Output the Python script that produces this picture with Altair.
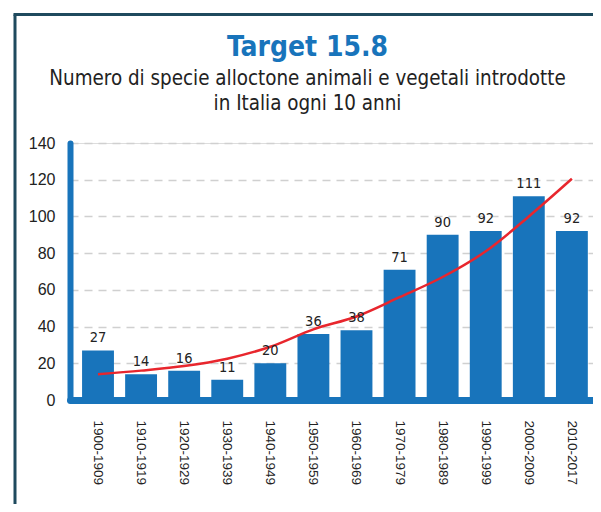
import altair as alt
import pandas as pd

periods = ["1900-1909", "1910-1919", "1920-1929", "1930-1939", "1940-1949", "1950-1959",
           "1960-1969", "1970-1979", "1980-1989", "1990-1999", "2000-2009", "2010-2017"]
values = [27, 14, 16, 11, 20, 36, 38, 71, 90, 92, 111, 92]
trend = [14, 16, 18.5, 22.5, 29, 38.5, 45.5, 56, 67, 81, 100, 120.5]
y_ticks = [0, 20, 40, 60, 80, 100, 120, 140]

BLUE = "#1874bb"
RED = "#e8262d"
BORDER = "#1f4a5e"
TXT = "#222222"
FONT = "DejaVu Sans Condensed"

df = pd.DataFrame({"period": periods, "value": values, "trend": trend})

x_axis = alt.Axis(labelAngle=90, labelAlign="left", labelBaseline="middle",
                  labelFont="Liberation Sans", labelFontSize=13.5, labelColor=TXT,
                  labelPadding=20, ticks=False, domainColor=BLUE, domainWidth=7,
                  domainCap="round", zindex=1, grid=False, title=None)
y_axis = alt.Axis(values=y_ticks, labelFont="Liberation Sans", labelFontSize=16,
                  labelColor=TXT, labelPadding=15, ticks=False, labelOverlap=False,
                  domainColor=BLUE, domainWidth=6, domainCap="round",
                  grid=True, gridColor="#d0d0d0", gridDash=[8, 6],
                  gridWidth=1.5, zindex=0, title=None)
x_scale = alt.Scale(paddingInner=0.26, paddingOuter=0.2, align=0.7)
y_scale = alt.Scale(domain=[0, 140])


def xenc():
    return alt.X("period:N", sort=periods, scale=x_scale, axis=x_axis, title=None)


bars = alt.Chart(df).mark_bar(color=BLUE).encode(
    x=xenc(),
    y=alt.Y("value:Q", scale=y_scale, axis=y_axis, title=None),
)
labels = alt.Chart(df).mark_text(baseline="bottom", dy=-5, font=FONT, fontSize=14.5,
                                 color=TXT).encode(
    x=xenc(),
    y=alt.Y("value:Q", scale=y_scale, axis=y_axis, title=None),
    text="value:Q",
)
line = alt.Chart(df).mark_line(color=RED, strokeWidth=2.5,
                               interpolate="catmull-rom").encode(
    x=xenc(),
    y=alt.Y("trend:Q", scale=y_scale, axis=y_axis, title=None),
)

frame = pd.DataFrame({"k": [0]})
left_border = alt.Chart(frame).mark_rule(color=BORDER, strokeWidth=3).encode(
    x=alt.value(-55), y=alt.value(-128.5), y2=alt.value(420))
top_border = alt.Chart(frame).mark_rule(color=BORDER, strokeWidth=3).encode(
    x=alt.value(-56.5), x2=alt.value(600), y=alt.value(-128.5))

chart = alt.layer(bars, line, labels, left_border, top_border).properties(
    width=523, height=257,
    padding={"left": 62, "top": 135, "right": 0, "bottom": 104},
    autosize=alt.AutoSizeParams(type="none"),
    title=alt.TitleParams(
        text="Target 15.8",
        subtitle=["Numero di specie alloctone animali e vegetali introdotte",
                  "in Italia ogni 10 anni"],
        anchor="middle", dx=-24, offset=-101,
        font=FONT, fontSize=28, fontWeight="bold", color=BLUE,
        subtitleFont=FONT, subtitleFontSize=20.4, subtitleColor=TXT,
        subtitleLineHeight=24.5, subtitlePadding=7,
    ),
).configure_view(strokeWidth=0).configure(background="white")

chart.save("out.html", embed_options={"renderer": "svg", "actions": False})
